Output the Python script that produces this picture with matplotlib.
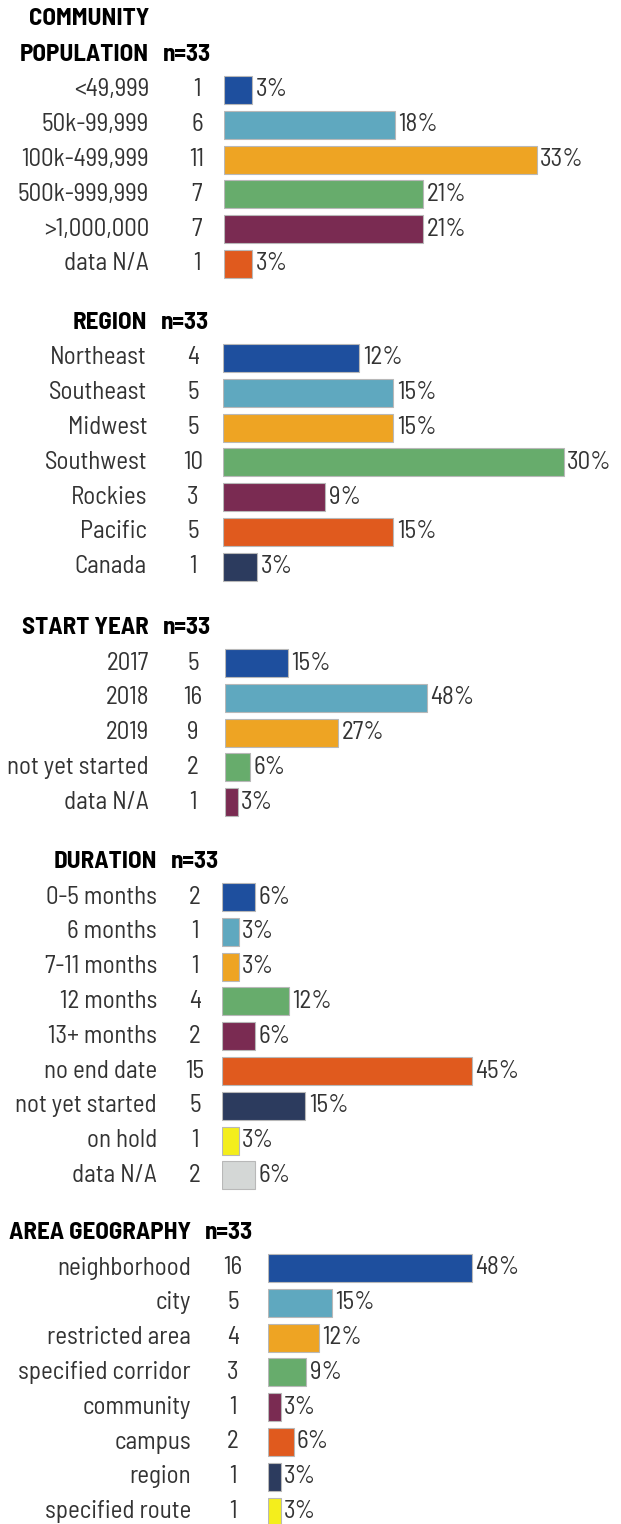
import matplotlib.pyplot as plt
from matplotlib.transforms import blended_transform_factory

plt.rcParams['font.family'] = ['Barlow Semi Condensed', 'Barlow Condensed',
                               'Roboto Condensed', 'DejaVu Sans']

W, H = 621, 1524

# data
pop_labels = ['<49,999', '50k-99,999', '100k-499,999', '500k-999,999', '>1,000,000', 'data N/A']
pop_counts = [1, 6, 11, 7, 7, 1]
pop_pct = [3, 18, 33, 21, 21, 3]

region_labels = ['Northeast', 'Southeast', 'Midwest', 'Southwest', 'Rockies', 'Pacific', 'Canada']
region_counts = [4, 5, 5, 10, 3, 5, 1]
region_pct = [12, 15, 15, 30, 9, 15, 3]

year_labels = ['2017', '2018', '2019', 'not yet started', 'data N/A']
year_counts = [5, 16, 9, 2, 1]
year_pct = [15, 48, 27, 6, 3]

dur_labels = ['0-5 months', '6 months', '7-11 months', '12 months', '13+ months',
              'no end date', 'not yet started', 'on hold', 'data N/A']
dur_counts = [2, 1, 1, 4, 2, 15, 5, 1, 2]
dur_pct = [6, 3, 3, 12, 6, 45, 15, 3, 6]

geo_labels = ['neighborhood', 'city', 'restricted area', 'specified corridor',
              'community', 'campus', 'region', 'specified route']
geo_counts = [16, 5, 4, 3, 1, 2, 1, 1]
geo_pct = [48, 15, 12, 9, 3, 6, 3, 3]

colors = ['#1e4f9e', '#5fa8bf', '#eea423', '#67ac6c', '#7a2b52',
          '#e05a1e', '#2c3b5e', '#f4ee1c', '#d4d7d6']

fig = plt.figure(figsize=(W / 100, H / 100), dpi=100)

FS = 18
TXT = '#333333'
SP = 34.8


def section(title, labels, counts, pct, x0, scale, y_first, lab_right, count_x, extra_title=None):
    n = len(labels)
    top = y_first - SP / 2
    ax = fig.add_axes([x0 / W, 1 - (top + n * SP) / H, (W - x0) / W, n * SP / H])
    ax.set_xlim(0, (W - x0) / scale)
    ax.set_ylim(n - 0.5, -0.5)
    ax.axis('off')
    ys = list(range(n))
    ax.barh(ys, pct, height=0.8, color=colors[:n], edgecolor='#b8b8b8', linewidth=0.8)
    tr = blended_transform_factory(fig.transFigure, ax.transData)
    for y, lab, c, p in zip(ys, labels, counts, pct):
        ax.text(lab_right / W, y, lab, transform=tr, ha='right', va='center',
                fontsize=FS, color=TXT)
        ax.text(count_x / W, y, str(c), transform=tr, ha='center', va='center',
                fontsize=FS, color=TXT)
        ax.annotate(f'{p}%', (p, y), xytext=(2.5, 0), textcoords='offset points',
                    ha='left', va='center', fontsize=FS, color=TXT)
    ax.text(lab_right / W, -1, title, transform=tr, ha='right', va='center',
            fontsize=FS, fontweight='bold', color='black', clip_on=False)
    ax.text((lab_right + 14) / W, -1, 'n=33', transform=tr, ha='left', va='center',
            fontsize=FS, fontweight='bold', color='black', clip_on=False)
    if extra_title:
        ax.text(lab_right / W, -2.05, extra_title, transform=tr, ha='right', va='center',
                fontsize=FS, fontweight='bold', color='black', clip_on=False)
    return ax


section('POPULATION', pop_labels, pop_counts, pop_pct, 224, 9.48, 90, 149, 197,
        extra_title='COMMUNITY')
section('REGION', region_labels, region_counts, region_pct, 223, 11.35, 358, 147, 193)
section('START YEAR', year_labels, year_counts, year_pct, 225, 4.2, 663, 149, 193)
section('DURATION', dur_labels, dur_counts, dur_pct, 222, 5.55, 897, 157, 195)
section('AREA GEOGRAPHY', geo_labels, geo_counts, geo_pct, 268, 4.25, 1268, 191, 233)

fig.savefig('out.png', dpi=100)
